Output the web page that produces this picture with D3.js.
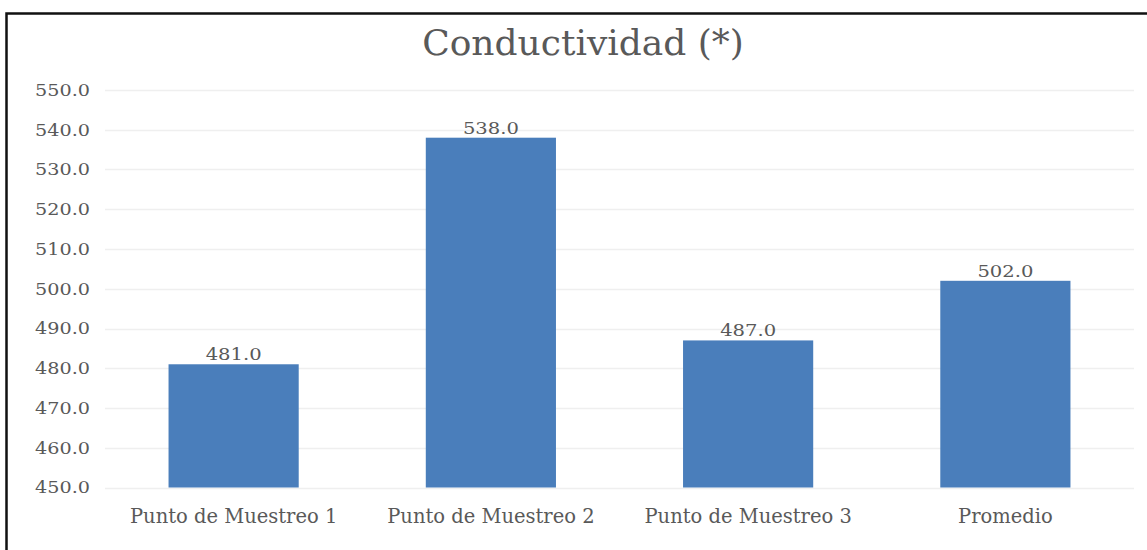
<!DOCTYPE html>
<html>
<head>
<meta charset="utf-8">
<script src="https://cdn.jsdelivr.net/npm/d3@7/dist/d3.min.js"></script>
<style>
  html, body { margin: 0; padding: 0; background: #fff; }
  svg { display: block; }
</style>
</head>
<body>
<div id="chart"></div>
<script>
// data
var categories = ['Punto de Muestreo 1', 'Punto de Muestreo 2', 'Punto de Muestreo 3', 'Promedio'];
var values = [481.0, 538.0, 487.0, 502.0];
var yTicks = [450, 460, 470, 480, 490, 500, 510, 520, 530, 540, 550];
var title = 'Conductividad (*)';

var W = 1147, H = 550;
var font = '"DejaVu Serif", "Liberation Serif", serif';
var grey = '#595959';
var fmt = d3.format('.1f');

var svg = d3.select('#chart').append('svg').attr('width', W).attr('height', H);

// frame (only top and left visible in the picture)
svg.append('path')
    .attr('d', 'M6.5,' + H + 'V13.5H' + W)
    .attr('fill', 'none')
    .attr('stroke', '#111')
    .attr('stroke-width', 2.5);

var x = d3.scaleBand().domain(categories).range([105, 1134]).paddingInner(0.494).paddingOuter(0.247);
var y = d3.scaleLinear().domain([450, 550]).range([487.5, 90]);

// gridlines
svg.append('g').selectAll('line').data(yTicks).enter().append('line')
    .attr('x1', 105).attr('x2', 1134)
    .attr('y1', function(d) { return Math.round(y(d)) + 0.5; })
    .attr('y2', function(d) { return Math.round(y(d)) + 0.5; })
    .attr('stroke', '#efefef')
    .attr('stroke-width', 1.5);

// y axis labels
var yAxis = d3.axisLeft(y).tickValues(yTicks).tickSize(0).tickPadding(0).tickFormat(fmt);
var gy = svg.append('g').attr('transform', 'translate(90,0)').call(yAxis);
gy.select('.domain').remove();
gy.selectAll('text')
    .attr('fill', grey)
    .style('font-family', font)
    .style('font-size', '17px')
    .attr('textLength', 55)
    .attr('lengthAdjust', 'spacingAndGlyphs');

// bars
svg.append('g').selectAll('rect').data(values).enter().append('rect')
    .attr('x', function(d, i) { return x(categories[i]); })
    .attr('width', x.bandwidth())
    .attr('y', function(d) { return y(d); })
    .attr('height', function(d) { return y(450) - y(d); })
    .attr('fill', '#4a7ebb');

// value labels
svg.append('g').selectAll('text').data(values).enter().append('text')
    .attr('x', function(d, i) { return x(categories[i]) + x.bandwidth() / 2; })
    .attr('y', function(d) { return y(d) - 4; })
    .attr('text-anchor', 'middle')
    .attr('fill', grey)
    .style('font-family', font)
    .style('font-size', '17px')
    .attr('textLength', 56)
    .attr('lengthAdjust', 'spacingAndGlyphs')
    .text(function(d) { return fmt(d); });

// x axis labels
var xAxis = d3.axisBottom(x).tickSize(0).tickPadding(0);
var gx = svg.append('g').attr('transform', 'translate(0,509)').call(xAxis);
gx.select('.domain').remove();
gx.selectAll('text')
    .attr('fill', grey)
    .style('font-family', font)
    .style('font-size', '19.5px');

// title
svg.append('text')
    .attr('x', 583)
    .attr('y', 55)
    .attr('text-anchor', 'middle')
    .attr('fill', grey)
    .style('font-family', font)
    .style('font-size', '36px')
    .text(title);
</script>
</body>
</html>
